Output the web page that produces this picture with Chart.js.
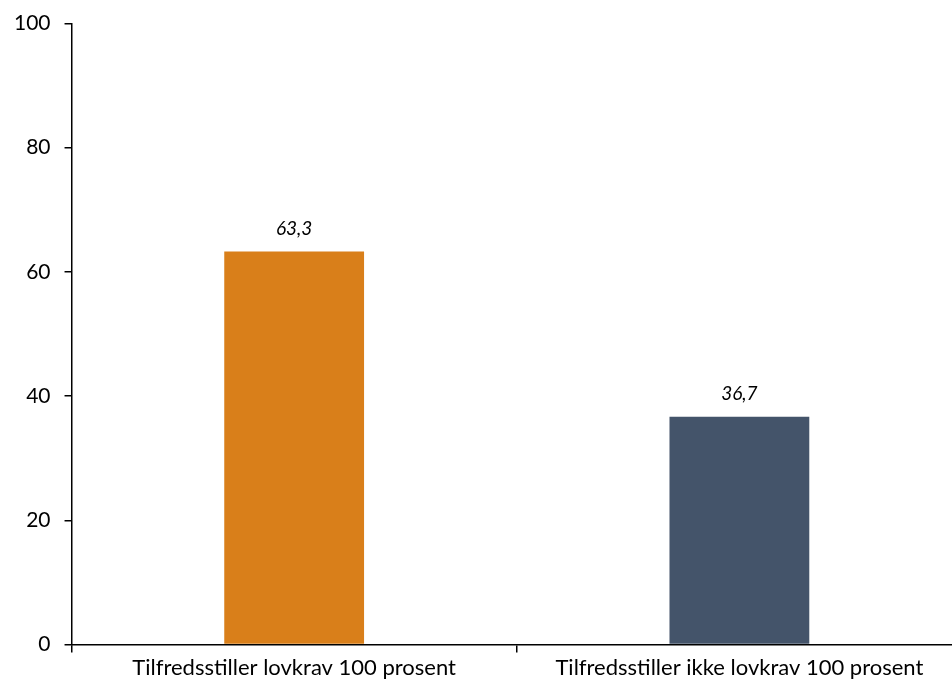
<!DOCTYPE html>
<html lang="no">
<head>
  <meta charset="UTF-8">
  <title>Lovkrav 100 prosent</title>
  <script src="https://cdn.jsdelivr.net/npm/chart.js"></script>
  <style>
    body {
      margin: 0;
      background: #fff;
      overflow: hidden;
    }
    #wrap {
      width: 962px;
      height: 686px;
    }
  </style>
</head>
<body>
  <div id="wrap"><canvas id="chart"></canvas></div>
  <script>
    const categories = ["Tilfredsstiller lovkrav 100 prosent", "Tilfredsstiller ikke lovkrav 100 prosent"];
    const values = [63.3, 36.7];
    const barColors = ["#D97F1A", "#44546A"];
    const yTicks = [0, 20, 40, 60, 80, 100];

    // draw the italic value labels above each bar
    const valueLabels = {
      id: "valueLabels",
      afterDatasetsDraw(chart) {
        const ctx = chart.ctx;
        const meta = chart.getDatasetMeta(0);
        ctx.save();
        ctx.font = "italic 19px Lato";
        ctx.fillStyle = "#000";
        ctx.textAlign = "center";
        ctx.textBaseline = "middle";
        meta.data.forEach((bar, i) => {
          ctx.fillText(values[i].toFixed(1).replace(".", ","), bar.x, bar.y - 23);
        });
        ctx.restore();
      }
    };

    new Chart(document.getElementById("chart"), {
      type: "bar",
      data: {
        labels: categories,
        datasets: [{
          data: values,
          backgroundColor: barColors,
          barPercentage: 0.314,
          categoryPercentage: 1
        }]
      },
      options: {
        responsive: true,
        maintainAspectRatio: false,
        animation: false,
        layout: { padding: { top: 0, right: 0, left: 0, bottom: 3 } },
        plugins: {
          legend: { display: false },
          tooltip: { enabled: false }
        },
        scales: {
          x: {
            offset: true,
            grid: { offset: true, drawOnChartArea: false, drawTicks: true, tickLength: 8, color: "#000", lineWidth: 1.5 },
            border: { display: true, color: "#000", width: 1.5 },
            ticks: { color: "#000", font: { family: "Lato", size: 22 }, padding: 2, maxRotation: 0 }
          },
          y: {
            min: 0,
            max: 100,
            afterBuildTicks(axis) {
              axis.ticks = yTicks.map(v => ({ value: v }));
            },
            grid: { drawOnChartArea: false, drawTicks: true, tickLength: 7, color: "#000", lineWidth: 1.5 },
            border: { display: true, color: "#000", width: 1.5 },
            ticks: { color: "#000", font: { family: "Lato", size: 21, lineHeight: 0.9 }, padding: 14 }
          }
        }
      },
      plugins: [valueLabels]
    });
  </script>
</body>
</html>
